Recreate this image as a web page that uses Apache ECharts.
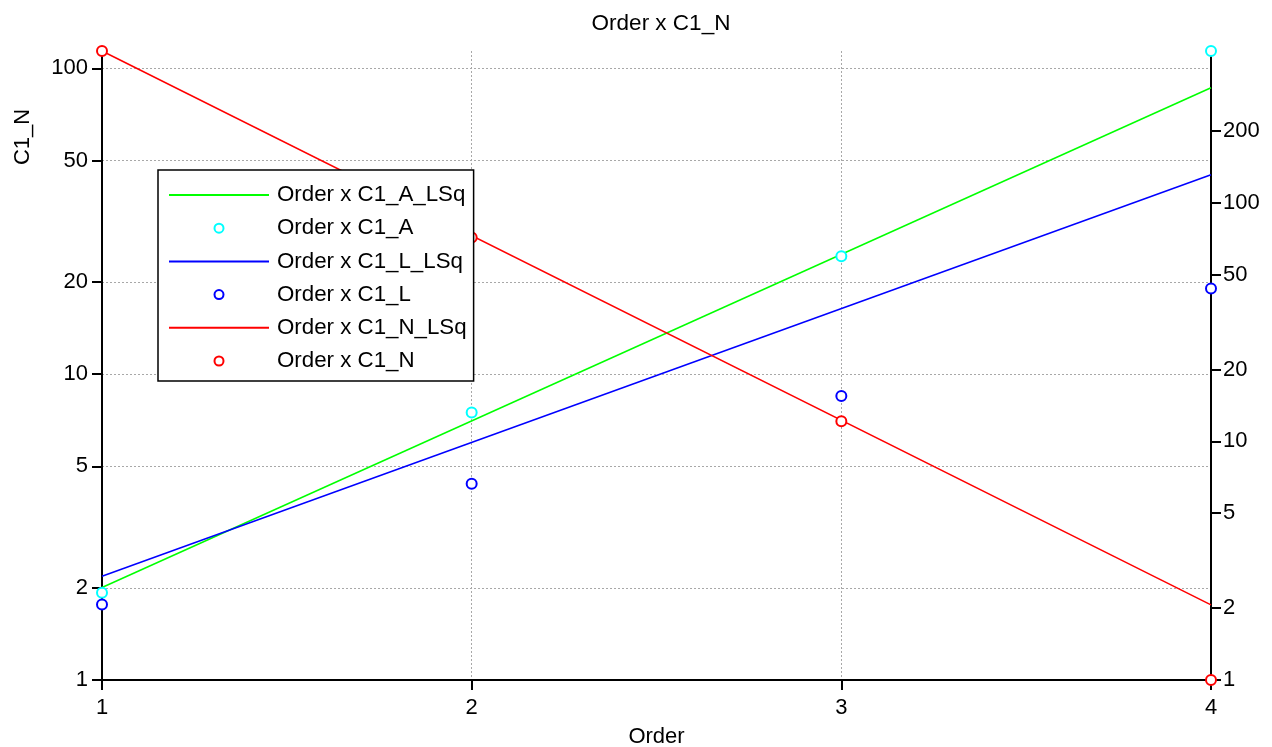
<!DOCTYPE html>
<html>
<head>
<meta charset="utf-8">
<title>Order x C1_N</title>
<script src="https://cdn.jsdelivr.net/npm/echarts@6/dist/echarts.min.js"></script>
<style>
  html, body { margin: 0; padding: 0; background: #ffffff; }
  #chart { width: 1272px; height: 747px; }
</style>
</head>
<body>
<div id="chart"></div>
<script>
// x 值
const orders = [1, 2, 3, 4]
const fitOrders = [1, 4]

// 散点 (右轴: C1_A, C1_L; 左轴: C1_N)
const c1A = [2.32, 13.2, 59.6, 432]
const c1L = [2.07, 6.64, 15.5, 43.7]
const c1N = [114, 28.0, 7.02, 1]

// 最小二乘拟合线端点
const c1ALsq = [2.44, 303]
const c1LLsq = [2.72, 131]
const c1NLsq = [114, 1.76]

// 刻度
const xTicks = [1, 2, 3, 4]
const leftTicks = [1, 2, 5, 10, 20, 50, 100]
const rightTicks = [1, 2, 5, 10, 20, 50, 100, 200]

const FONT = '"Liberation Sans", Arial, sans-serif'

const pairs = (xs, ys) => xs.map((x, i) => [x, ys[i]])

const getOption = () => {
  const fmt = (v) => String(Math.round(v))

  const lineSeries = (name, ys, color, yAxisIndex) => ({
    name,
    type: 'line',
    yAxisIndex,
    data: pairs(fitOrders, ys),
    symbol: 'none',
    lineStyle: { color, width: 1.5 },
    // 图例里不显示点
    itemStyle: { color, opacity: 0 },
    z: 2,
  })

  const dotSeries = (name, ys, color, yAxisIndex) => ({
    name,
    type: 'scatter',
    yAxisIndex,
    data: pairs(orders, ys),
    symbol: 'emptyCircle',
    symbolSize: 10,
    clip: false,
    itemStyle: { color, borderWidth: 1.6, opacity: 1 },
    z: 3,
  })

  return {
    animation: false,
    backgroundColor: '#ffffff',
    textStyle: { fontFamily: FONT },
    title: {
      text: 'Order x C1_N',
      left: 656,
      top: 7,
      textAlign: 'center',
      textStyle: { fontFamily: FONT, fontSize: 22.5, fontWeight: 'normal', color: '#000' },
    },
    legend: {
      orient: 'vertical',
      left: 158,
      top: 170,
      padding: [14, 7, 9, 10],
      itemWidth: 100,
      itemHeight: 9,
      itemGap: 11.2,
      backgroundColor: '#ffffff',
      borderColor: '#000000',
      borderWidth: 1.5,
      textStyle: { fontFamily: FONT, fontSize: 22.3, color: '#000', padding: [0, 0, 0, 3] },
      data: [
        'Order x C1_A_LSq',
        'Order x C1_A',
        'Order x C1_L_LSq',
        'Order x C1_L',
        'Order x C1_N_LSq',
        'Order x C1_N',
      ],
    },
    // 固定绘图区, 不让 v6 自动收缩
    grid: { left: 102, right: 61, top: 51, bottom: 67, containLabel: false, outerBoundsMode: 'none' },
    graphic: [
      {
        type: 'text',
        x: 23,
        y: 137,
        rotation: Math.PI / 2,
        style: {
          text: 'C1_N',
          fontFamily: FONT,
          fontSize: 22,
          fill: '#000',
          align: 'center',
          verticalAlign: 'middle',
        },
      },
    ],
    xAxis: {
      type: 'value',
      min: 1,
      max: 4,
      interval: 1,
      name: 'Order',
      nameLocation: 'middle',
      nameGap: 46,
      nameTextStyle: { fontFamily: FONT, fontSize: 22, color: '#000' },
      axisLine: { lineStyle: { color: '#000', width: 2 } },
      axisTick: { length: 10, lineStyle: { color: '#000', width: 2 }, customValues: xTicks },
      axisLabel: { fontFamily: FONT, fontSize: 22, color: '#000', margin: 17, customValues: xTicks },
      splitLine: { show: true, lineStyle: { color: '#a8a8a8', width: 1, type: [2, 2] } },
    },
    yAxis: [
      {
        type: 'log',
        min: 1,
        max: 114,
        position: 'left',
        axisLine: { show: true, onZero: false, lineStyle: { color: '#000', width: 2 } },
        axisTick: { show: true, length: 10, lineStyle: { color: '#000', width: 2 }, customValues: leftTicks },
        axisLabel: { fontFamily: FONT, fontSize: 22, color: '#000', margin: 14, formatter: fmt, customValues: leftTicks },
        splitLine: { show: true, lineStyle: { color: '#a8a8a8', width: 1, type: [2, 2] } },
      },
      {
        type: 'log',
        min: 1,
        max: 432,
        position: 'right',
        axisLine: { show: true, onZero: false, lineStyle: { color: '#000', width: 2 } },
        axisTick: { show: true, length: 10, lineStyle: { color: '#000', width: 2 }, customValues: rightTicks },
        axisLabel: { fontFamily: FONT, fontSize: 22, color: '#000', margin: 12, formatter: fmt, customValues: rightTicks },
        splitLine: { show: false },
      },
    ],
    series: [
      lineSeries('Order x C1_A_LSq', c1ALsq, '#00ff00', 1),
      dotSeries('Order x C1_A', c1A, '#00ffff', 1),
      lineSeries('Order x C1_L_LSq', c1LLsq, '#0000ff', 1),
      dotSeries('Order x C1_L', c1L, '#0000ff', 1),
      lineSeries('Order x C1_N_LSq', c1NLsq, '#ff0000', 0),
      dotSeries('Order x C1_N', c1N, '#ff0000', 0),
    ],
  }
}

const chart = echarts.init(document.getElementById('chart'), null, { renderer: 'canvas' })
chart.setOption(getOption())
</script>
</body>
</html>
